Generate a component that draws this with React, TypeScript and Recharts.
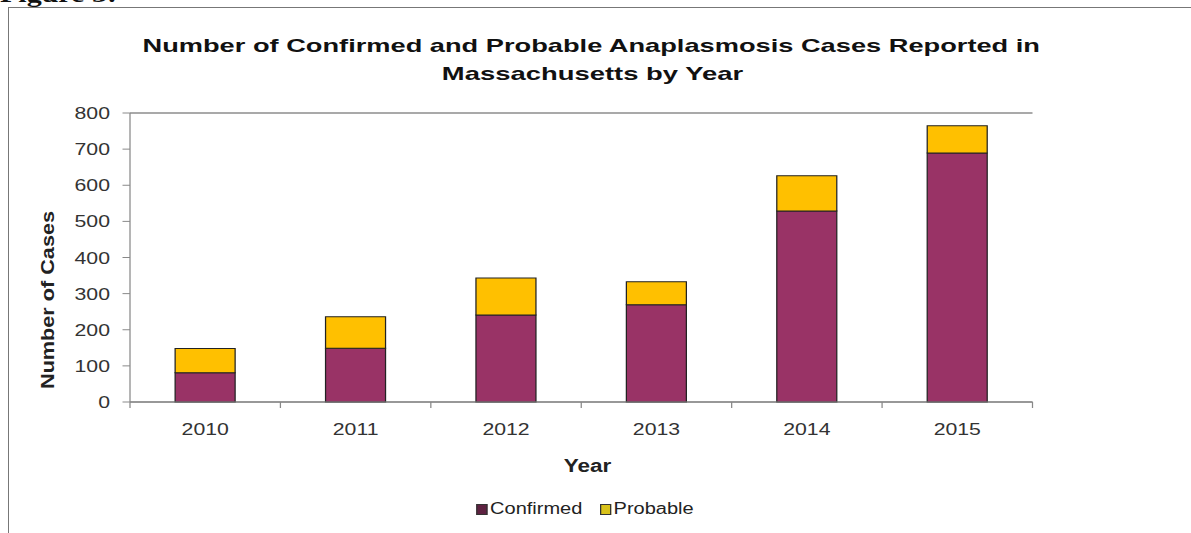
import { Bar, BarChart, CartesianGrid, Legend, XAxis, YAxis } from "recharts"

// values
const years = ["2010", "2011", "2012", "2013", "2014", "2015"]
const confirmed = [81, 149, 241, 269, 529, 689]
const probable = [67, 87, 102, 64, 97, 76]
const yTicks = [0, 100, 200, 300, 400, 500, 600, 700, 800]
const seriesNames = ["Confirmed", "Probable"]
const seriesColors = ["#993366", "#FFC000"]
const titleLines = [
  "Number of Confirmed and Probable Anaplasmosis  Cases Reported in",
  "Massachusetts by Year",
]

const data = years.map((year, i) => ({
  year,
  confirmed: confirmed[i],
  probable: probable[i],
}))

// the reference image is stretched sideways, so the whole chart is drawn narrow and scaled
const STRETCH = 1.25
const W = 953
const H = 533
const FONT = "'Liberation Sans', Arial, sans-serif"

function YearTick(props: any) {
  const { x, y, payload, index, width } = props
  const half = payload.offset ?? width / years.length / 2
  return (
    <g>
      <line x1={x - half} x2={x - half} y1={y} y2={y + 6} stroke="#888" />
      {index === years.length - 1 && (
        <line x1={x + half} x2={x + half} y1={y} y2={y + 6} stroke="#888" />
      )}
      <text x={x} y={y + 33} textAnchor="middle" fontSize={17} fontFamily={FONT} fill="#333">
        {payload.value}
      </text>
    </g>
  )
}

function LegendBox() {
  return (
    <div
      style={{
        display: "flex",
        justifyContent: "center",
        alignItems: "center",
        gap: 14,
        fontFamily: FONT,
        fontSize: 16,
        color: "#222",
      }}
    >
      {seriesNames.map((name, i) => (
        <div key={name} style={{ display: "flex", alignItems: "center" }}>
          <span
            style={{
              display: "inline-block",
              width: 7,
              height: 9,
              marginRight: 2,
              background: i === 0 ? "#5e2241" : "#d9c21a",
              border: "1px solid #333",
            }}
          />
          {name}
        </div>
      ))}
    </div>
  )
}

export default function App() {
  return (
    <div style={{ position: "absolute", left: 0, top: 0, width: 1191, height: 533, overflow: "hidden", background: "#fff" }}>
      <div
        style={{
          position: "absolute",
          left: 8,
          top: 7,
          right: 0,
          bottom: 0,
          borderTop: "1px solid #777",
          borderLeft: "1px solid #777",
        }}
      />
      <div
        style={{
          position: "absolute",
          left: 0,
          top: 0,
          width: W,
          height: H,
          transform: `scaleX(${STRETCH})`,
          transformOrigin: "left top",
        }}
      >
        <BarChart
          width={W}
          height={H}
          data={data}
          margin={{ top: 113, right: 127, left: 54, bottom: 81 }}
          barCategoryGap="30%"
        >
          <CartesianGrid vertical={false} stroke="#8c8c8c" strokeWidth={1.3} />
          <XAxis
            dataKey="year"
            height={30}
            axisLine={{ stroke: "#888" }}
            tickLine={false}
            tickSize={0}
            tickMargin={0}
            tick={<YearTick />}
            interval={0}
          />
          <YAxis
            yAxisId="left"
            width={50}
            domain={[0, 800]}
            ticks={yTicks}
            interval={0}
            axisLine={{ stroke: "#888" }}
            tickLine={{ stroke: "#888" }}
            tickSize={6}
            tickMargin={10}
            tick={{ fontSize: 17, fontFamily: FONT, fill: "#333" }}
          />
          <YAxis
            yAxisId="right"
            orientation="right"
            width={0}
            domain={[0, 800]}
            tick={false}
            tickLine={false}
            axisLine={{ stroke: "#888" }}
          />
          <Bar
            yAxisId="left"
            dataKey="confirmed"
            name={seriesNames[0]}
            stackId="cases"
            fill={seriesColors[0]}
            stroke="#222"
            strokeWidth={1}
            isAnimationActive={false}
          />
          <Bar
            yAxisId="left"
            dataKey="probable"
            name={seriesNames[1]}
            stackId="cases"
            fill={seriesColors[1]}
            stroke="#222"
            strokeWidth={1}
            isAnimationActive={false}
          />
          <Legend
            content={<LegendBox />}
            wrapperStyle={{ position: "absolute", top: 500, left: 0, width: 936, height: 20 }}
          />
        </BarChart>
        <svg
          width={W}
          height={H}
          style={{ position: "absolute", left: 0, top: 0, pointerEvents: "none" }}
        >
          <text x={0} y={2} fontFamily="'Liberation Serif', 'Times New Roman', serif" fontWeight="bold" fontSize={24} fill="#111">
            Figure 3:
          </text>
          <text
            x={473}
            y={52}
            textAnchor="middle"
            fontFamily={FONT}
            fontWeight="bold"
            fontSize={17.5}
            fill="#111"
            textLength={718}
            lengthAdjust="spacingAndGlyphs"
          >
            {titleLines[0]}
          </text>
          <text
            x={474}
            y={80}
            textAnchor="middle"
            fontFamily={FONT}
            fontWeight="bold"
            fontSize={17.5}
            fill="#111"
            textLength={241}
            lengthAdjust="spacingAndGlyphs"
          >
            {titleLines[1]}
          </text>
          <text x={470} y={472} textAnchor="middle" fontFamily={FONT} fontWeight="bold" fontSize={18} fill="#222">
            Year
          </text>
          <text
            transform="translate(43,300) rotate(-90)"
            textAnchor="middle"
            fontFamily={FONT}
            fontWeight="bold"
            fontSize={15}
            fill="#222"
            textLength={178}
            lengthAdjust="spacingAndGlyphs"
          >
            Number of Cases
          </text>
        </svg>
      </div>
    </div>
  )
}
